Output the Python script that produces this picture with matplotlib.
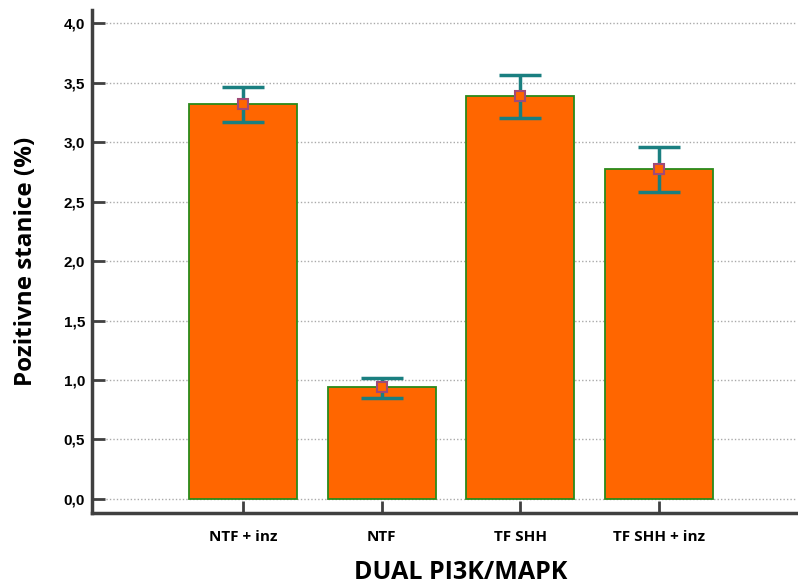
import matplotlib
matplotlib.use("Agg")
import matplotlib.pyplot as plt
import numpy as np

categories = ["NTF + inz", "NTF", "TF SHH", "TF SHH + inz"]
means = [3.32, 0.94, 3.39, 2.77]
err_upper = [3.46, 1.02, 3.56, 2.96]
err_lower = [3.17, 0.85, 3.20, 2.58]
yticks = [0.0, 0.5, 1.0, 1.5, 2.0, 2.5, 3.0, 3.5, 4.0]
ytick_labels = ["0,0", "0,5", "1,0", "1,5", "2,0", "2,5", "3,0", "3,5", "4,0"]

W, H = 798, 586
fig = plt.figure(figsize=(W / 100, H / 100), dpi=100)
ax = fig.add_axes([92 / W, 1 - 513 / H, (797 - 92) / W, (513 - 10) / H])

x = np.arange(len(categories))
ax.bar(x, means, width=0.78, color="#ff6600", edgecolor="#2a8a1a", linewidth=1.3, zorder=2)

means_a = np.array(means)
yerr = np.vstack([means_a - np.array(err_lower), np.array(err_upper) - means_a])
ax.errorbar(x, means, yerr=yerr, fmt="none", ecolor="#1a7f80", elinewidth=2.5,
            capsize=15, capthick=2.5, zorder=3)
ax.plot(x, means, linestyle="none", marker="s", markersize=7.5,
        markerfacecolor="#ff6600", markeredgecolor="#a04a78", markeredgewidth=1.5, zorder=4)

ax.set_ylim(-0.118, 4.11)
ax.set_xlim(-1.094, 4.0)
ax.set_yticks(yticks)
ax.set_yticklabels(ytick_labels, fontsize=11, fontweight="bold", family="Liberation Sans")
ax.set_xticks(x)
ax.set_xticklabels(categories, fontsize=11, fontweight="bold", family="Open Sans")
ax.yaxis.grid(True, linestyle=(0, (1, 1.5)), color="#aaaaaa", linewidth=1, zorder=0)
ax.set_axisbelow(True)

for s in ["top", "right"]:
    ax.spines[s].set_visible(False)
for s in ["left", "bottom"]:
    ax.spines[s].set_color("#404040")
    ax.spines[s].set_linewidth(2.5)

ax.tick_params(axis="y", direction="in", length=9, width=2, color="#404040", pad=5)
ax.tick_params(axis="x", direction="in", length=9, width=2, color="#404040", pad=12)

ax.set_ylabel("Pozitivne stanice (%)", fontsize=17.5, fontweight="bold", family="Open Sans")
ax.yaxis.set_label_coords(-0.076, 0.5)
ax.set_xlabel("DUAL PI3K/MAPK", fontsize=18, fontweight="bold", family="Open Sans")
ax.xaxis.set_label_coords((461 - 92) / (797 - 92), -0.093)

fig.savefig("out.png", dpi=100)
